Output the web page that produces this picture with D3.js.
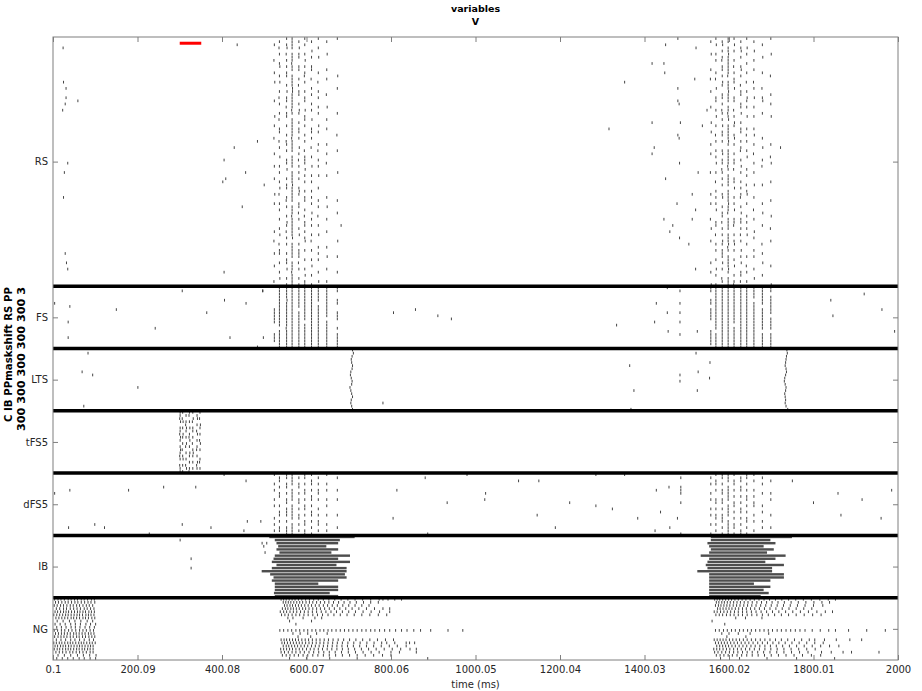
<!DOCTYPE html>
<html><head><meta charset="utf-8">
<script src="https://cdn.jsdelivr.net/npm/d3@7"></script>
<style>body{margin:0;background:#fff}svg text{font-family:"DejaVu Sans",sans-serif}</style>
</head><body><svg id="c" width="922" height="691"></svg>
<script>
// ---------------- data ----------------
const populations = ["RS","FS","LTS","tFS5","dFS5","IB","NG"];
const popSizes = [80,20,20,20,20,20,20];
const xTickValues = [0.1,200.09,400.08,600.07,800.06,1000.05,1200.04,1400.03,1600.02,1800.01,2000];
const xTickLabels = ["0.1","200.09","400.08","600.07","800.06","1000.05","1200.04","1400.03","1600.02","1800.01","2000"];
const titleLines = ["variables","V"];
const yLabelLines = ["C IB PPmaskshift RS PP","300 300 300 300 300 3"];
const xLabel = "time (ms)";
const stimulus = [300, 351];

// gamma cycle times (ms) shared by RS / FS / dFS5
const burst1Times = [524,536,553,566,582,596,612,628,648,673];
const burst2Times = [1557,1569,1584,1598,1612,1628,1642,1659,1679,1699];
// mask chars: '.' = no spike, digit d = spike at cycle time + (d-3) ms ; one char per cell
const rsBurst1 = [
"..3....2.. .3..4..... 3....4..3. ..2....3.. .3...3.... 4..3...... ..3..2...3 ...3....2.",
".3.2.3..34 ..3.4..3.2 .3..3.2..3 3..2.3..4. .3.3..3.4. 2..3.3..3. .3.4..2.33 ..3..3.4..",
"3.34.2.3.3 .33..3.4.3 3.2.33..3. .3.23.3..3 3.4..3.33. .32.3..3.4 3.2.3.3..3 .33.4..3.3",
"3333.33323 3.33334433 33323.3333 3323333.33 33.3333433 333.333233 33334.3333 3.33323333",
".3.4.33..3 3..3.2.33. .3.43..3.3 3.3..4.3.2 .3.3.3..34 3..33.2.3. .3.4..3.33 3.2.3..3.3",
"3.3..3.4.3 .32.3..3.3 3..4.33.3. .3.3..2.33 3.4.3.3..3 .33..3.2.3 3.3.34..3. .3..3.4.33",
".3..4.3..3 3..2..3.3. .3.3..4..3 3.3..2..3. .4..3.3..3 .3.3..4.3. 3..3.2..3. .3.4..3..3",
"3..3..4... .3..2..3.3 ..3.3...4. 3...3.2..3 .3..4...3. ..3.3..2.. 3..4...3.3 .3...3..4.",
".3...4.... 3..3....2. ..4...3..3 ....3..3.. 2...3..... .3..4...3. ..3....3.. 4...3...3.",
"3......... ..4...3... ....3..... .2....3... ...4...... ..3...3... .....4.... 3....3...."];
const rsBurst2 = [
".3...4.... 3..2...3.. ..3....4.. 4...3..3.. ...2...... 3..3....2. .4...3.... ..3..3...4",
"3.4..3.3.. .3.2..4..3 3..3.4..3. .2.3..3.3. 4..3..2..3 .3.3.4...3 3..2..3.3. .3..4.3..3",
".34.3.32.3 3.3.43..33 .3.23.3.4. 33.3..34.3 3.23.3.3.. 34..3.33.2 .3.3.43.33 3.4.3..23.",
"33.3343333 332.333433 3.33234.33 33343.3333 323.3333.3 3334332.33 33.333423. 333343.333",
"3.4.3..3.2 .3.33.4..3 3..2.3.43. .34.3..3.3 3.2..33.4. .3.3.4..33 2..3.34.3. .3.4..3.32",
".3.34.3..3 4.3..2.33. .33.4..3.3 3..3.32..3 .4.3..3.3. 32..3.4.33 .3.2.3..4. 3.4..33.2.",
"3..4.3..3. .3..2..3.4 3.3..4...3 .2.3..3.4. ..3.3..2.3 4..3...3.3 .3.4..3... 3..2.3..3.",
".3..4..3.. 3...2.3..4 ..3..3...3 .4..3..2.. 3..3...4.. .3...2..3. ..4.3...3. 3...3..4..",
"..3...4... .3....2..3 4...3..... ..3..4...3 .2.....3.. ...3..4... 3.....2..3 ..4...3...",
"3....4.... ..2.....3. .3...4.... ....3...2. 4.....3... ..3....4.. .2...3.... ...3.....4"];
const fsBurst1 = [".......33333...333..","3333333333333.333333","33334333333332333333","33333333333333333333",
"3333333.333333333333","33333333333.33333333","33333333333333333333","33333.33333333333333","3333333333.333333333","33..33..333..3.33333"];
const fsBurst2 = ["33..33.3333...33333.","33333333333333.33333","33333333333333333333","33333333333333333333",
"333333333333.3333333","33333333333333333333","33333333333333333333","3333.333333333333333","333333.3333333.33333","33.333333.3333.33333"];
const dfsBurst1 = ["3..3.3..3.3...3.3.3.",".33.3.33..3.33.3.33.","33.33.3.33.333.3.333","3333.3333.33333.3333",
".3.33.3.33.3.33.3.3.","33.3.33.3.33.3.33.33","3.33.3.33.3.33.3.3.3",".3.3.33.3..3.3.33.3.","3..3.3..3.3..3..3.3.",".3...3..3....3...3.."];
const dfsBurst2 = [".3.3..3.3..3.3..3..3","3.33.3..33.3.33.3.3.","33.3.33.33.3.333.3.3","333.33333.3333.33333",
"3.33.3.3.33.3.3.33.3",".33.33.3.3.33.3.3.33","33.3.3.33.3.3.33.3.3","3.3..3.3.33..3.3..3.",".3.3..3...3.3..3.3..","..3...3.3....3...3.."];
const tfsTimes = [301,307,315,323,331,341,348];
const tfsBurst = ["3324.33243.34323.233","3.24.3.43.3.2.34.3.3",".3.3243.3.42.3.3.24.","32.3.4.324.3.43.3.32",
"3.42.33.3.2.343.3.3.",".34.3.24.3.32.3.423.","3.2.43.3.24.3..32.3."];
// LTS: one spike per cell in each wave
const ltsWave1 = [709,711,708,706,707,709,708,705,704,706,708,707,703,705,707,709,706,705,707,709];
const ltsWave2 = [1737,1738,1736,1735,1734,1733,1735,1736,1734,1732,1731,1733,1735,1734,1732,1733,1734,1733,1735,1739];
// IB burst windows [start, end] per cell (ms)
const ibBurst1 = [[512,714],[525,679],[529,675],[533,647],[529,675],[536,659],[525,703],[522,675],[518,703],[529,671],
[518,695],[494,695],[514,691],[522,695],[518,675],[525,628],[525,675],[525,675],[523,655],[525,675]];
const ibBurst2 = [[1557,1749],[1557,1698],[1549,1710],[1553,1682],[1557,1706],[1553,1690],[1533,1734],[1553,1710],[1549,1686],[1545,1730],
[1549,1702],[1525,1702],[1553,1730],[1553,1730],[1553,1698],[1553,1659],[1553,1698],[1553,1682],[1553,1694],[1553,1675]];
// sparse spikes [time ms, cell within population]
const rsSparse = [[24,3],[25,14],[31,16],[31,19],[59,20],[29,21],[23,23],[35,40],[27,43],[25,51],[29,69],[32,72],[35,74],
[436,2],[484,33],[429,35],[405,39],[456,43],[409,45],[402,46],[448,54],[405,75],[500,47],[682,60],
[1316,29],[1353,14],[1418,8],[1446,8],[1448,11],[1450,2],[1479,0],[1522,3],[1519,13],[1479,16],[1479,20],[1482,21],
[1548,23],[1418,27],[1485,27],[1537,28],[1479,31],[1482,32],[1423,35],[1418,37],[1722,35],[1483,40],[1527,43],[1450,45],
[1513,50],[1477,53],[1521,55],[1446,58],[1467,60],[1513,58],[1483,64],[1521,74],[1505,66],[1460,62]];
const fsSparse = [[4,5],[40,6],[36,11],[36,16],[150,7],[242,13],[306,1],[364,8],[406,4],[419,16],[457,5],[484,19],[496,1],[498,16],
[497,1],[806,8],[858,7],[911,9],[943,10],[1334,12],[1424,11],[1428,5],[1454,8],[1456,14],[1454,0],[1484,1],[1484,5],[1484,8],
[1484,11],[1484,15],[1525,14],[1841,4],[1846,9],[1920,2],[1962,7],[1992,14]];
const ltsSparse = [[83,1],[69,7],[94,8],[201,12],[73,18],[781,17],[1365,5],[1375,13],[1368,19],[1484,8],[1484,10],
[1522,1],[1527,7],[1525,13],[1555,4],[1554,9]];
const dfsSparse = [[4,6],[40,5],[37,17],[99,16],[122,17],[179,5],[228,19],[262,4],[306,16],[338,4],[374,17],[405,0],[452,18],
[457,2],[460,15],[492,15],[881,1],[980,0],[814,5],[805,14],[887,19],[933,9],[1024,6],[1022,8],[1102,2],[1150,2],[1146,13],
[1189,17],[1223,9],[1285,0],[1285,10],[1324,11],[1353,0],[1384,14],[1428,5],[1438,12],[1425,18],[1458,4],[1460,17],[1478,14],
[1486,1],[1486,4],[1486,5],[1486,6],[1486,9],[1486,19],[1750,2],[1800,9],[1858,6],[1865,13],[1915,8],[1960,14],[1985,5]];
const ibSparse = [[495,2],[506,2],[499,3],[502,5],[301,1],[327,7],[327,10]];
// NG spike trains per cell (ms)
const ngEarly = ["4 12 19 27 36 43 51 58 67 74 82 91 98","6 13 21 29 36 44 52 59 67 75 83 90 99","3 10 18 25 33 41 48 56 63 71 79 86 94",
"8 16 25 32 41 49 57 65 74 81 89 97","5 11 18 25 31 37 44 51 58 64 71 77 85 91 98","2 9 16 23 30 36 43 50 57 63 70 78 84 90 97",
"7 14 21 28 35 43 49 56 63 71 77 84 92 99","10 24 39 52 66 81 94","5 17 29 42 53 65 78 89 101","9 20 31 43 53 64 76 87 98",
"3 11 20 28 37 45 54 63 71 79 88 96","6 13 20 27 34 41 49 55 62 69 76 84 90 97","4 12 19 26 33 41 48 56 62 70 77 85 92 99",
"8 19 30 42 52 63 74 86 96","2 8 15 21 28 35 41 47 54 61 67 73 80 87 93 100","5 11 18 24 30 37 43 50 57 63 69 76 83 89 95",
"3 10 16 23 30 36 42 49 56 62 69 75 82 88 95","7 15 23 31 40 47 55 63 71 79 88 95","12 27 42 58 72 87 102","9 22 35 48 62 74 88 101"];
const ngBurst1 = [
"540 546 552 559 566 573 581 589 598 607 617 628 640 653 667 682 698 715 733 752 772 781 793 809 825",
"545 551 557 563 570 577 584 591 599 607 615 624 633 643 653 664 676 689 703 718 735 752 770",
"548 554 561 567 574 581 588 596 604 612 621 630 640 650 661 673 686 700 715 731 748",
"543 550 556 563 569 576 583 591 598 606 615 624 633 643 654 666 679 693 708 724 742 761 781 797",
"538 546 553 561 569 577 586 595 604 614 624 635 646 658 671 685 700 716 734 753 773 797",
"541 549 557 566 575 584 594 604 615 626 638 651 665 680 696 713 731 750 770 790",
"556 568 592 620 636","560 612","575","",
"537 546 556 565 575 584 594 603 613 622 632 641 651 660 670 680 690 700 710 720 731 741 752 762 773 785 797 811 825 838 854 870 894 935 970",
"568 585 603 624 649","580 610",
"540 547 553 560 567 574 581 589 597 605 614 623 632 642 652 663 675 688 702 717 733 750 768 787 806",
"542 548 555 562 569 576 583 590 598 606 614 623 632 641 651 662 673 685 698 712 727 743 760 778 790 809 836 844 856",
"545 552 558 565 572 579 587 595 603 612 621 630 640 650 661 672 684 697 711 726 742 759 777 796 815 836",
"539 546 553 560 567 575 583 591 600 609 618 628 638 649 660 672 685 699 714 730 747 765 784 803 823 845 860",
"540 548 557 566 575 585 595 606 617 629 641 654 668 683 699 716 734 753 772 800 820 860",
"543 552 561 571 581 592 603 615 627 640 654 669 685 702 720 739 759 780 800",
"560 600 655 720 887"];
const ngBurst2 = [
"1566 1572 1578 1585 1592 1599 1606 1614 1622 1631 1640 1650 1660 1671 1683 1696 1710 1725 1741 1758 1776 1795 1815 1835 1852",
"1570 1576 1583 1589 1596 1603 1611 1619 1627 1636 1645 1655 1666 1677 1689 1702 1716 1731 1747 1764 1782 1801 1820 1838",
"1568 1575 1581 1588 1595 1602 1610 1618 1626 1635 1644 1654 1664 1675 1687 1700 1714 1729 1745 1762 1780 1800 1822",
"1573 1579 1586 1593 1600 1607 1615 1623 1632 1641 1651 1661 1672 1684 1697 1711 1726 1742 1759 1777 1796",
"1565 1572 1580 1588 1596 1604 1613 1622 1632 1642 1653 1664 1676 1689 1703 1718 1734 1751 1769 1788 1808 1828 1845",
"1569 1577 1585 1594 1603 1612 1622 1632 1643 1654 1666 1679 1693 1708 1724 1741 1759 1778 1798 1818",
"1616 1639 1678","1560","1590","",
"1568 1577 1587 1596 1606 1615 1625 1634 1644 1653 1663 1673 1683 1693 1703 1714 1724 1735 1746 1757 1768 1780 1797 1816 1836 1852 1883 1926 1970",
"1583 1600 1622 1650 1694","1595 1640",
"1565 1572 1579 1586 1593 1601 1609 1617 1625 1634 1643 1653 1663 1674 1685 1697 1710 1724 1739 1755 1772 1790 1803 1826 1854 1886 1914",
"1568 1575 1582 1589 1596 1604 1612 1620 1629 1638 1647 1657 1668 1679 1691 1704 1718 1733 1749 1766 1784 1803 1823",
"1571 1578 1585 1592 1599 1607 1615 1624 1633 1642 1652 1662 1673 1685 1698 1712 1727 1743 1760 1778 1797 1817 1838 1860",
"1564 1571 1578 1586 1594 1602 1611 1620 1629 1639 1649 1660 1672 1685 1699 1714 1730 1747 1765 1784 1804",
"1566 1574 1583 1592 1601 1611 1621 1632 1643 1655 1668 1682 1697 1713 1730 1748 1767 1787 1819 1842 1870 1890 1955",
"1570 1579 1588 1598 1608 1619 1630 1642 1655 1669 1684 1700 1717 1735 1754 1774 1795 1817",
"1580 1625 1690 1760 1850"];

// ---------------- build spike list ----------------
const offsets = {}; let acc = 0;
populations.forEach((p,i)=>{offsets[p]=acc; acc+=popSizes[i];});
const spikes = [];
function addMasks(pop, times, masks){
  masks.forEach((m,j)=>{
    const s = m.replace(/ /g,'');
    for(let i=0;i<s.length;i++){ const ch=s[i]; if(ch>='0'&&ch<='9') spikes.push({t:times[j]+(+ch-3), c:offsets[pop]+i}); }
  });
}
function addPairs(pop, list){ list.forEach(([t,c])=>spikes.push({t, c:offsets[pop]+c})); }
function addTrains(pop, trains){ trains.forEach((s,i)=>{ s.split(' ').filter(v=>v!=='').forEach(v=>spikes.push({t:+v, c:offsets[pop]+i})); }); }
addMasks("RS", burst1Times, rsBurst1); addMasks("RS", burst2Times, rsBurst2);
addMasks("FS", burst1Times, fsBurst1); addMasks("FS", burst2Times, fsBurst2);
addMasks("dFS5", burst1Times, dfsBurst1); addMasks("dFS5", burst2Times, dfsBurst2);
addMasks("tFS5", tfsTimes, tfsBurst);
ltsWave1.forEach((t,i)=>spikes.push({t,c:offsets.LTS+i})); ltsWave2.forEach((t,i)=>spikes.push({t,c:offsets.LTS+i}));
addPairs("RS", rsSparse); addPairs("FS", fsSparse); addPairs("LTS", ltsSparse); addPairs("dFS5", dfsSparse); addPairs("IB", ibSparse);
addTrains("NG", ngEarly); addTrains("NG", ngBurst1); addTrains("NG", ngBurst2);

// ---------------- draw ----------------
const svg = d3.select("#c");
const L=53,R=898,T=37,B=660;
const x = d3.scaleLinear().domain([0.1,2000]).range([L,R]);
const y = d3.scaleLinear().domain([0,acc]).range([T,B]);
const ch = y(1)-y(0);

// spikes
let path = "";
spikes.forEach(s=>{ const px=x(s.t); path += `M${px},${y(s.c)+0.2}V${y(s.c+1)-0.2}`; });
svg.append("path").attr("d",path).attr("stroke","#444").attr("stroke-width",1).attr("fill","none");

// IB bursts
const ibRects = [];
ibBurst1.forEach((b,i)=>ibRects.push({s:b[0],e:b[1],c:offsets.IB+i}));
ibBurst2.forEach((b,i)=>ibRects.push({s:b[0],e:b[1],c:offsets.IB+i}));
svg.append("g").selectAll("rect").data(ibRects).join("rect")
  .attr("x",d=>x(d.s)).attr("width",d=>x(d.e)-x(d.s))
  .attr("y",d=>y(d.c)+0.35).attr("height",ch-0.7).attr("fill","#4d4d4d");

// population separators
const bounds = []; let a2=0; popSizes.slice(0,-1).forEach(n=>{a2+=n; bounds.push(a2);});
svg.append("g").selectAll("line").data(bounds).join("line")
  .attr("x1",L).attr("x2",R).attr("y1",d=>y(d)).attr("y2",d=>y(d))
  .attr("stroke","#000").attr("stroke-width",3.5);

// stimulus bar
svg.append("line").attr("x1",x(stimulus[0])).attr("x2",x(stimulus[1])).attr("y1",y(2)).attr("y2",y(2))
  .attr("stroke","#ff0000").attr("stroke-width",3);

// axes
const centers = []; let a3=0; popSizes.forEach(n=>{centers.push(a3+n/2); a3+=n;});
const axCol = "#7f7f7f";
function style(g){ g.select(".domain").remove(); g.selectAll(".tick line").attr("stroke",axCol);
  g.selectAll("text").attr("fill","#262626").style("font-size","10px"); }
svg.append("g").attr("transform",`translate(0,${B})`)
  .call(d3.axisBottom(x).tickValues(xTickValues).tickFormat((d,i)=>xTickLabels[i]).tickSize(-5).tickPadding(6)).call(style);
svg.append("g").attr("transform",`translate(0,${T})`)
  .call(d3.axisTop(x).tickValues(xTickValues).tickFormat("").tickSize(-5)).call(style);
svg.append("g").attr("transform",`translate(${L},0)`)
  .call(d3.axisLeft(y).tickValues(centers).tickFormat((d,i)=>populations[i]).tickSize(-5).tickPadding(5)).call(style);
svg.append("g").attr("transform",`translate(${R},0)`)
  .call(d3.axisRight(y).tickValues(centers).tickFormat("").tickSize(-5)).call(style);
svg.append("rect").attr("x",L).attr("y",T).attr("width",R-L).attr("height",B-T)
  .attr("fill","none").attr("stroke",axCol).attr("stroke-width",1);

// titles
svg.append("text").attr("x",(L+R)/2).attr("y",12).attr("text-anchor","middle").style("font-size","9.5px").style("font-weight","bold").attr("fill","#000").text(titleLines[0]);
svg.append("text").attr("x",(L+R)/2).attr("y",25).attr("text-anchor","middle").style("font-size","9.5px").style("font-weight","bold").attr("fill","#000").text(titleLines[1]);
svg.append("text").attr("x",(L+R)/2).attr("y",688).attr("text-anchor","middle").style("font-size","10px").attr("fill","#262626").text(xLabel);
svg.append("text").attr("transform","translate(11.5,287) rotate(-90)").attr("text-anchor","end")
  .attr("textLength",135).attr("lengthAdjust","spacingAndGlyphs").style("font-size","10px").style("font-weight","bold").attr("fill","#000").text(yLabelLines[0]);
svg.append("text").attr("transform","translate(24.5,287) rotate(-90)").attr("text-anchor","end")
  .attr("textLength",144).attr("lengthAdjust","spacingAndGlyphs").style("font-size","10px").style("font-weight","bold").attr("fill","#000").text(yLabelLines[1]);
</script></body></html>
